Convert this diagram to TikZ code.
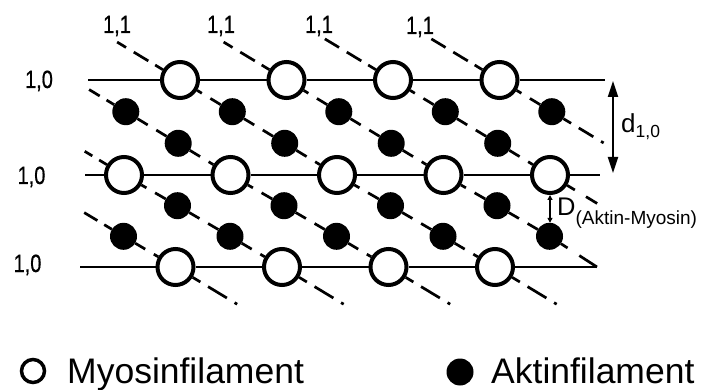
\documentclass[tikz,border=0pt]{standalone}
\usepackage{fontspec}
\setmainfont{Liberation Sans}
\newfontfamily\narrowsans[FakeStretch=0.8,FakeBold=0.6]{Liberation Sans}
\usetikzlibrary{calc,arrows.meta}

\tikzset{
  myosin/.style={circle, draw=black, fill=white, line width=4pt,
    minimum size=36pt, inner sep=0pt, outer sep=2pt},
  actin/.style={circle, fill=black, minimum size=27pt, inner sep=0pt, outer sep=0pt},
  filline/.style={line width=2.7pt},
  diag/.style={line width=2.7pt},
  halfseg/.style={diag, shorten >=5pt},
  tailpat/.style={diag, dash pattern=on 9pt off 8pt on 17pt off 9pt on 17pt off 9pt},
  lowtail/.style={diag, dash pattern=on 9pt off 9pt on 22pt off 9pt on 3pt off 90pt},
  planelabel/.style={font=\narrowsans\fontsize{25}{28}\selectfont, inner sep=0pt, anchor=base},
  legendtext/.style={font=\fontsize{35.5}{40}\selectfont, inner sep=0pt, anchor=base west},
  dimarrow/.style={line width=2pt, {Triangle[length=16pt,width=10pt]}-{Triangle[length=16pt,width=10pt]}},
  gaparrow/.style={line width=1.3pt, {Triangle[length=5pt,width=5pt]}-{Triangle[length=5pt,width=5pt]}},
}

% one lattice segment between two filaments: a stub at each end, gap in the middle
\newcommand\latseg[2]{%
  \draw[halfseg] (#1) -- ($(#1)!.5!(#2)$);
  \draw[halfseg] (#2) -- ($(#1)!.5!(#2)$);}

\begin{document}
\begin{tikzpicture}[x=1pt,y=-1pt]
\useasboundingbox (0,0) rectangle (701,390);

% myosin filaments (open circles), three 1,0 rows
\foreach \n/\x in {1/180,2/286.5,3/393,4/499.5}
  \node[myosin] (m1-\n) at (\x,80) {};
\foreach \n/\x in {1/124,2/230.5,3/337,4/443.5,5/550}
  \node[myosin] (m2-\n) at (\x,175) {};
\foreach \n/\x in {1/175.5,2/282,3/388.5,4/495}
  \node[myosin] (m3-\n) at (\x,267) {};

% actin filaments (filled circles) at the trigonal positions
\foreach \n/\x in {1/125.8,2/232.3,3/338.8,4/445.3,5/551.8}
  \node[actin] (a1-\n) at (\x,111.7) {};
\foreach \n/\x in {1/178.2,2/284.7,3/391.2,4/497.7}
  \node[actin] (a2-\n) at (\x,143.3) {};
\foreach \n/\x in {1/177.5,2/284,3/390.5,4/497}
  \node[actin] (a3-\n) at (\x,205.7) {};
\foreach \n/\x in {1/123.5,2/230,3/336.5,4/443,5/549.5}
  \node[actin] (a4-\n) at (\x,236.3) {};

% ends of the horizontal 1,0 lines
\coordinate (l1) at (88,80);  \coordinate (r1) at (605,80);
\coordinate (l2) at (85,175); \coordinate (r2) at (600,175);
\coordinate (l3) at (80,267); \coordinate (r3) at (597,267);

% free ends of the 1,1 lines (u = lattice step along the diagonal)
\coordinate (s1) at ($(a4-1)-0.75*(52.4,31.6)$);
\coordinate (s2) at ($(m2-1)-0.75*(52.4,31.6)$);
\coordinate (s3) at ($(a1-1)-0.7*(52.4,31.6)$);
\coordinate (s4) at ($(m1-1)-1.2*(52.4,31.6)$);
\coordinate (s5) at ($(m1-2)-1.2*(52.4,31.6)$);
\coordinate (s6) at ($(m1-3)-1.3*(52.4,31.6)$);
\coordinate (s7) at ($(m1-4)-1.3*(52.4,31.6)$);
\foreach \n in {1,2,3,4}
  \coordinate (e\n) at ($(m3-\n)+1.3*(52.4,31.6)$);
\coordinate (e6) at ($(m2-5)+0.9*(52.4,31.6)$);
\coordinate (e7) at ($(a1-5)+(52.4,31.6)$);

% 1,0 lines
\draw[filline] (l1) -- (m1-1) -- (m1-2) -- (m1-3) -- (m1-4) -- (r1);
\draw[filline] (l2) -- (m2-1) -- (m2-2) -- (m2-3) -- (m2-4) -- (m2-5) -- (r2);
\draw[filline] (l3) -- (m3-1) -- (m3-2) -- (m3-3) -- (m3-4) -- (r3);

% 1,1 lines between filaments
\foreach \p/\q in {a4-1/m3-1,
    m2-1/a3-1, a3-1/a4-2, a4-2/m3-2,
    a1-1/a2-1, a2-1/m2-2, m2-2/a3-2, a3-2/a4-3, a4-3/m3-3,
    m1-1/a1-2, a1-2/a2-2, a2-2/m2-3, m2-3/a3-3, a3-3/a4-4, a4-4/m3-4,
    m1-2/a1-3, a1-3/a2-3, a2-3/m2-4, m2-4/a3-4, a3-4/a4-5,
    m1-3/a1-4, a1-4/a2-4, a2-4/m2-5,
    m1-4/a1-5}
  {\latseg{\p}{\q}}

% upper and left ends of the 1,1 lines
\foreach \a/\s in {a4-1/s1, m2-1/s2, a1-1/s3, m1-1/s4, m1-2/s5, m1-3/s6, m1-4/s7}
  {\draw[tailpat] (\a) -- (\s);}
% lower ends
\foreach \n in {1,2,3,4}
  {\draw[lowtail] (m3-\n) -- (e\n);}
\draw[diag, dash pattern=on 8pt off 14pt on 40pt] (a4-5) -- (r3);
\draw[diag, dash pattern=on 9pt off 13pt on 40pt] (m2-5) -- (e6);
\draw[diag, dash pattern=on 9pt off 9pt on 17pt off 9pt on 3pt off 60pt] (a1-5) -- (e7);

% lattice plane labels
\node[planelabel] (p10a) at (39,88) {1,0};
\node[planelabel] (p10b) at (31.5,184) {1,0};
\node[planelabel] (p10c) at (27.5,272) {1,0};
\node[planelabel] (p11a) at (117,33) {1,1};
\node[planelabel] (p11b) at (221,33) {1,1};
\node[planelabel] (p11c) at (319,33) {1,1};
\node[planelabel] (p11d) at (420,34) {1,1};

% spacing d(1,0)
\coordinate (dtop) at (613,81);
\coordinate (dbot) at (613,173);
\draw[dimarrow] (dtop) -- (dbot);
\node[inner sep=0pt, anchor=base west] (dlab) at (621,133)
  {\fontsize{26}{30}\selectfont d\raisebox{-5pt}{\fontsize{17.5}{20}\selectfont 1,0}};

% actin-myosin distance
\draw[gaparrow] (m2-5.south) -- (m2-5.south |- a4-5.north);
\node[inner sep=0pt, anchor=base west] (Dlab) at (557,215)
  {\fontsize{25.5}{30}\selectfont D\raisebox{-9pt}{\fontsize{19}{22}\selectfont (Aktin-Myosin)}};

% legend
\node[myosin, minimum size=23pt, line width=3.5pt, outer sep=1.75pt] (lm) at (33,371) {};
\node[legendtext] (lmt) at (67,383) {Myosinfilament};
\node[actin] (la) at (460,372) {};
\node[legendtext] (lat) at (491,383) {Aktinfilament};
\end{tikzpicture}
\end{document}
